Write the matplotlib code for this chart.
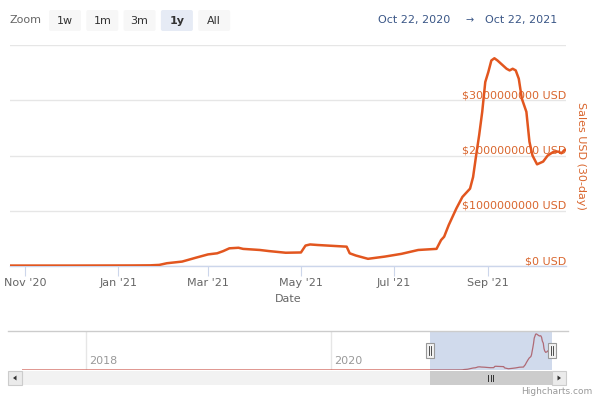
import matplotlib
matplotlib.use("Agg")
import matplotlib.pyplot as plt
import matplotlib.dates as mdates
import matplotlib.transforms as mtransforms
from matplotlib.patches import Rectangle, FancyBboxPatch, Polygon
from matplotlib.lines import Line2D
import numpy as np
import pandas as pd

# ---------------- data ----------------
dates = ["2020-10-22", "2020-12-01", "2021-01-10", "2021-01-22", "2021-01-28",
         "2021-02-02", "2021-02-12", "2021-02-21", "2021-03-01", "2021-03-07",
         "2021-03-11", "2021-03-15", "2021-03-21", "2021-03-24", "2021-04-04",
         "2021-04-10", "2021-04-21", "2021-05-01", "2021-05-04", "2021-05-07",
         "2021-05-12", "2021-05-31", "2021-06-02", "2021-06-06", "2021-06-14",
         "2021-06-25", "2021-07-06", "2021-07-17", "2021-07-29", "2021-08-01",
         "2021-08-03", "2021-08-06", "2021-08-11", "2021-08-15", "2021-08-20",
         "2021-08-22", "2021-08-24", "2021-08-26", "2021-08-28", "2021-08-30",
         "2021-09-01", "2021-09-03", "2021-09-05", "2021-09-07", "2021-09-13",
         "2021-09-15", "2021-09-17", "2021-09-19", "2021-09-21", "2021-09-23",
         "2021-09-26", "2021-09-28", "2021-09-30", "2021-10-03", "2021-10-07",
         "2021-10-10", "2021-10-14", "2021-10-17", "2021-10-19", "2021-10-21",
         "2021-10-22"]
sales_busd = [0.008, 0.008, 0.010, 0.012, 0.02,
              0.05, 0.08, 0.15, 0.21, 0.23,
              0.27, 0.32, 0.33, 0.31, 0.29,
              0.27, 0.24, 0.245, 0.37, 0.39,
              0.38, 0.35, 0.23, 0.19, 0.13,
              0.17, 0.22, 0.29, 0.31, 0.47,
              0.53, 0.74, 1.04, 1.25, 1.40,
              1.61, 2.00, 2.37, 2.79, 3.33,
              3.51, 3.72, 3.76, 3.72, 3.57,
              3.54, 3.57, 3.54, 3.39, 3.03,
              2.79, 2.25, 2.00, 1.84, 1.89,
              2.00, 2.07, 2.07, 2.04, 2.10,
              2.10]

# earlier history shown only in the navigator
hist_dates = ["2017-06-23", "2018-01-01", "2019-01-01", "2020-01-01", "2020-08-01"]
hist_busd = [0.0005, 0.001, 0.0005, 0.001, 0.003]

y_ticks_busd = [0, 1, 2, 3, 4]
range_start = "2020-10-22"
range_end = "2021-10-22"
zoom_buttons = ["1w", "1m", "3m", "1y", "All"]
selected_button = "1y"

# ---------------- styling ----------------
LINE = "#E2561F"
LABEL = "#D9662E"
GRID = "#e6e6e6"
AXIS = "#ccd6eb"
TXT = "#666666"
plt.rcParams["font.family"] = ["DejaVu Sans"]

W, H = 600, 400
fig = plt.figure(figsize=(6, 4), dpi=100)
fig.patch.set_facecolor("white")

def fx(x):
    return x / W

def fy(y):
    return 1 - y / H

def P(x, y):  # pixel (from top-left) to inches for dpi_scale_trans
    return (x / 100.0, (H - y) / 100.0)

IN = fig.dpi_scale_trans

d = pd.to_datetime(dates)
v = np.array(sales_busd) * 1e9
rs, re_ = pd.to_datetime(range_start), pd.to_datetime(range_end)

# ---------------- main chart ----------------
ax = fig.add_axes([fx(10), fy(266), (566 - 10) / W, (266 - 45) / H])
ax.plot(d, v, color=LINE, lw=1.8, solid_joinstyle="round", solid_capstyle="round", zorder=3)
ax.set_xlim(rs, re_)
ax.set_ylim(0, max(y_ticks_busd) * 1e9)
ax.set_yticks([t * 1e9 for t in y_ticks_busd])
ax.grid(axis="y", color=GRID, lw=1)
ax.tick_params(axis="y", length=0, labelleft=False)
for s in ["left", "right", "top"]:
    ax.spines[s].set_visible(False)
ax.spines["bottom"].set_color(AXIS)
ax.spines["bottom"].set_linewidth(1)
ax.xaxis.set_major_locator(mdates.MonthLocator(bymonth=[1, 3, 5, 7, 9, 11]))
ax.xaxis.set_major_formatter(mdates.DateFormatter("%b '%y"))
ax.tick_params(axis="x", direction="out", length=7, width=0.8, color=AXIS,
               labelcolor=TXT, labelsize=8, pad=2)
ax.set_xlabel("Date", color=TXT, fontsize=8, labelpad=4)

ytrans = mtransforms.blended_transform_factory(ax.transAxes, ax.transData)
for t in y_ticks_busd[:-1]:
    val = int(round(t * 1e9))
    ax.text(1.0, val, f"${val} USD", transform=ytrans, ha="right", va="bottom",
            color=LABEL, fontsize=8, zorder=2)

fig.text(fx(581), fy(156), "Sales USD (30-day)", rotation=270, ha="center",
         va="center", color=LABEL, fontsize=8)

# ---------------- range selector ----------------
fig.text(fx(10), fy(20), "Zoom", ha="left", va="center", color=TXT, fontsize=8)
bx = 49
for b in zoom_buttons:
    sel = (b == selected_button)
    fig.add_artist(FancyBboxPatch(P(bx, 31), 32 / 100, 21 / 100,
                                  boxstyle="round,pad=0,rounding_size=0.02",
                                  transform=IN, facecolor="#e6ebf5" if sel else "#f7f7f7",
                                  edgecolor="none"))
    fig.text(fx(bx + 16), fy(20.5), b, ha="center", va="center", color="#333333",
             fontsize=8, fontweight="bold" if sel else "normal")
    bx += 37.3

date_col = "#3b5787"
fig.text(fx(414), fy(20), rs.strftime("%b %d, %Y"), ha="center", va="center",
         color=date_col, fontsize=8)
fig.text(fx(470), fy(20), "\u2192", ha="center", va="center", color=date_col, fontsize=7)
fig.text(fx(521), fy(20), re_.strftime("%b %d, %Y"), ha="center", va="center",
         color=date_col, fontsize=8)

# ---------------- navigator ----------------
nd = pd.to_datetime(hist_dates + dates)
nv = np.array(hist_busd + sales_busd) * 1e9
NX0, NX1, NY0, NY1 = 22, 552, 331, 370
axn = fig.add_axes([fx(NX0), fy(NY1), (NX1 - NX0) / W, (NY1 - NY0) / H])
axn.plot(nd, nv, color="#cf5f55", lw=0.9, zorder=2)
axn.set_xlim(nd[0], nd[-1])
axn.set_ylim(0, nv.max() * 1.08)
axn.axvspan(rs, re_, color="#6685c2", alpha=0.3, lw=0, zorder=3)
for s in axn.spines.values():
    s.set_visible(False)
axn.set_yticks([])
axn.xaxis.set_major_locator(mdates.YearLocator(2))
axn.tick_params(axis="x", length=0, labelbottom=False)
axn.grid(axis="x", color=GRID, lw=1)
xtr = mtransforms.blended_transform_factory(axn.transData, axn.transAxes)
for tk in axn.get_xticks():
    if nd[0] <= mdates.num2date(tk).replace(tzinfo=None) <= nd[-1]:
        axn.text(tk, 0.1, mdates.num2date(tk).strftime("%Y"),
                 transform=xtr + mtransforms.ScaledTranslation(3 / 100, 0, IN),
                 ha="left", va="bottom", color="#999999", fontsize=8)

fig.add_artist(Line2D([fx(8), fx(568)], [fy(331), fy(331)], color="#cccccc", lw=1,
                      transform=fig.transFigure))

n0, n1 = mdates.date2num(nd[0]), mdates.date2num(nd[-1])

def nav_px(dt):
    return NX0 + (mdates.date2num(dt) - n0) / (n1 - n0) * (NX1 - NX0)

hx0, hx1 = nav_px(rs), nav_px(re_)
for hx in (hx0, hx1):
    fig.add_artist(Rectangle(P(hx - 4, 358), 8 / 100, 15 / 100, transform=IN,
                             facecolor="#f2f2f2", edgecolor="#999999", lw=0.8, zorder=5))
    for dx in (-1, 1):
        fig.add_artist(Line2D([(hx + dx) / 100] * 2, [(H - 346) / 100, (H - 355) / 100],
                              color="#333333", lw=0.6, transform=IN, zorder=6))

# ---------------- scrollbar ----------------
axs = fig.add_axes([fx(NX0), fy(385), (NX1 - NX0) / W, 14 / H])
axs.set_facecolor("#f2f2f2")
axs.set_xlim(nd[0], nd[-1])
axs.set_ylim(0, 1)
axs.axvspan(rs, re_, color="#cccccc", lw=0)
axs.set_xticks([])
axs.set_yticks([])
for s in axs.spines.values():
    s.set_visible(False)
gx = (hx0 + hx1) / 2
for dx in (-2.5, 0, 2.5):
    fig.add_artist(Line2D([(gx + dx) / 100] * 2, [(H - 375) / 100, (H - 381) / 100],
                          color="#333333", lw=0.7, transform=IN))
for bx0, direction in ((8, -1), (552, 1)):
    fig.add_artist(Rectangle(P(bx0, 385), 14 / 100, 14 / 100, transform=IN,
                             facecolor="#ebebeb", edgecolor="#cccccc", lw=0.8))
    cx, cy = bx0 + 7, 378
    tri = [P(cx + 2 * direction, cy), P(cx - 1.5 * direction, cy - 2.5),
           P(cx - 1.5 * direction, cy + 2.5)]
    fig.add_artist(Polygon(tri, closed=True, transform=IN, facecolor="#333333",
                           edgecolor="none"))

fig.text(fx(592), fy(392), "Highcharts.com", ha="right", va="center",
         color="#999999", fontsize=6.5)

fig.savefig("out.png", dpi=100, facecolor="white")
